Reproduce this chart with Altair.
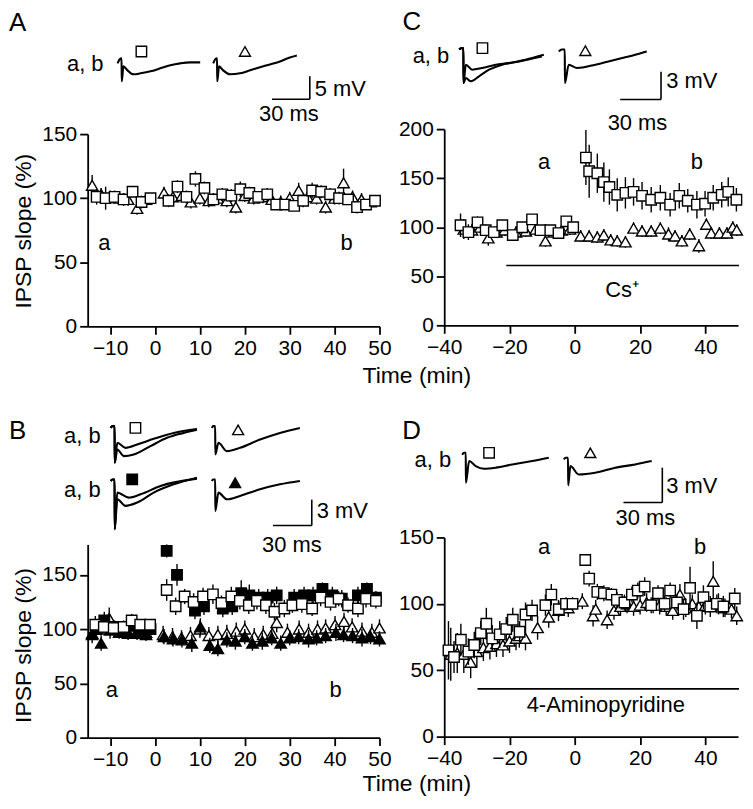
import altair as alt
import pandas as pd

FONT = "Liberation Sans"

# ---------------- Panel A (time course) ----------------
A_sq_t = [-13, -11, -9, -7, -5, -3, -1, 3, 5, 7, 9, 11, 13, 15, 17, 19, 21, 23, 25, 27, 29, 31, 33, 35, 37, 39, 41, 43, 45, 47, 49]
A_sq_v = [101, 100, 101, 99, 105, 97, 100, 98, 109, 101, 115, 108, 99, 103, 102, 107, 104, 101, 103, 95, 95, 94, 98, 106, 105, 103, 100, 99, 93, 95, 98]
A_sq_e = [6, 9, 5, 5, 4, 5, 4, 5, 5, 5, 6, 5, 5, 5, 5, 6, 5, 4, 5, 4, 4, 4, 5, 6, 5, 5, 5, 4, 5, 4, 4]
A_tri_t = [-14, -12, -10, -8, -6, -4, -2, 2, 4, 6, 8, 10, 12, 14, 16, 18, 20, 22, 24, 26, 28, 30, 32, 34, 36, 38, 40, 42, 44, 46, 48]
A_tri_v = [110, 103, 101, 100, 99, 92, 99, 104, 101, 102, 97, 100, 98, 100, 98, 93, 102, 100, 101, 99, 97, 100, 106, 101, 100, 93, 100, 112, 101, 99, 97]
A_tri_e = [8, 5, 5, 5, 5, 5, 5, 5, 5, 5, 5, 5, 5, 5, 5, 5, 5, 5, 5, 5, 5, 5, 6, 5, 5, 5, 5, 11, 5, 5, 5]

# ---------------- Panel C ----------------
C_sq_t = [-35, -32.6, -29.8, -27.3, -24.8, -22.2, -19, -16.1, -13.1, -10.5, -7.5, -5, -2.6, -0.5,
          3.4, 4.4, 6.9, 8.9, 10.6, 13, 15.5, 18, 20.6, 23.4, 26.2, 29.2, 32, 34.6, 37.4, 39.9, 42.4, 45, 47, 49.5]
C_sq_v = [102, 95, 105, 97, 95, 102, 92, 100, 108, 97, 97, 94, 106, 100,
          171, 157, 155, 146, 141, 133, 135, 136, 132, 128, 130, 123, 132, 127, 123, 124, 130, 133, 136, 128]
C_sq_e = [12, 8, 6, 6, 5, 5, 5, 5, 5, 5, 5, 5, 5, 5,
          28, 27, 20, 20, 18, 17, 16, 14, 14, 13, 13, 12, 13, 12, 14, 13, 13, 13, 15, 12]
C_tri_t = [-34, -31.5, -29, -26.5, -24, -21.5, -18, -15, -12, -9, -6.5, -4, -1.5,
           1.8, 4.4, 6.9, 8.9, 11, 13, 15.5, 18, 20.6, 23.4, 26.2, 28.7, 30.7, 32.8, 35.2, 38, 40.3, 41.8, 44.3, 46.6, 48.4, 49.6]
C_tri_v = [98, 97, 100, 89, 95, 97, 95, 96, 98, 86, 95, 97, 98,
           91, 91, 90, 92, 87, 86, 85, 99, 96, 96, 99, 93, 91, 86, 93, 81, 103, 94, 94, 94, 100, 97]
C_tri_e = [10, 6, 6, 8, 6, 6, 6, 6, 6, 6, 6, 6, 6,
           6, 6, 6, 6, 6, 6, 6, 6, 6, 6, 6, 7, 6, 6, 6, 7, 6, 6, 6, 6, 6, 6]

# ---------------- Panel B ----------------
B_sq_t = [-13.3, -11.4, -9.2, -7, -5.2, -3.3, -1.1, 2.6, 4.6, 6.6, 8.6, 10.7, 12.9, 14.8, 17, 18.9, 20.9,
          22.7, 24.7, 26.6, 28.8, 30.6, 32.7, 35, 36.9, 39.1, 40.9, 43, 45.2, 47, 49.2]
B_sq_v = [104, 102, 101, 102, 108, 104, 104, 136, 121, 130, 125, 130, 132, 124, 130, 126, 122,
          126, 122, 116, 119, 122, 123, 119, 129, 125, 128, 122, 119, 128, 126]
B_sq_e = [8, 6, 6, 6, 6, 5, 5, 10, 8, 7, 8, 8, 9, 7, 9, 8, 8, 8, 8, 8, 8, 7, 8, 7, 8, 8, 7, 7, 8, 8, 7]
B_fsq_t = [-13, -11.3, -9, -7, -5, -3, -1, 2.6, 4.9, 8.9, 10.9, 15.1, 17.2, 19.2, 21, 23.1, 25.1, 27.1,
           31, 33.2, 35.2, 37.3, 39.5, 41.6, 45.2, 47.2, 49.2]
B_fsq_v = [100, 108, 102, 100, 103, 99, 100, 172, 150, 117, 121, 119, 121, 133, 131, 129, 129, 131,
           129, 131, 131, 137, 131, 128, 131, 137, 129]
B_fsq_e = [5, 8, 6, 5, 5, 5, 5, 6, 10, 8, 8, 8, 8, 12, 10, 8, 8, 8, 8, 8, 8, 6, 8, 8, 8, 6, 6]
B_tri_t = [-14, -12, -10.2, -8, -6, -4, -2, 1.8, 3.9, 5.9, 7.9, 10, 12, 14, 16, 18.1, 20, 22.1, 24.1, 26.1,
           27.1, 29.5, 32.1, 34.2, 36.2, 38, 40.1, 42.1, 43.9, 46.1, 48.3, 50]
B_tri_v = [95, 100, 110, 100, 97, 98, 97, 95, 93, 92, 94, 100, 94, 95, 96, 98, 100, 93, 95, 96,
           106, 97, 100, 97, 100, 101, 104, 107, 102, 98, 97, 101]
B_tri_e = [8, 6, 10, 6, 6, 6, 6, 8, 8, 7, 8, 8, 8, 8, 8, 8, 8, 8, 8, 8, 9, 8, 8, 8, 8, 8, 8, 8, 8, 8, 8, 8]
B_ftri_t = [-14, -12, -10, -8, -6, -4, -2, 2, 4, 6, 8.2, 10.1, 12.2, 14, 16, 17.9, 20, 21.7, 23.9, 26,
            28, 30, 32, 34.2, 36, 38, 40.3, 42, 44, 46.1, 48, 50]
B_ftri_v = [96, 87, 99, 97, 96, 96, 95, 93, 91, 90, 87, 102, 85, 82, 90, 89, 93, 87, 89, 92,
            87, 92, 93, 91, 92, 94, 97, 95, 94, 92, 93, 91]
B_ftri_e = [6, 7, 8, 6, 6, 6, 6, 7, 7, 7, 8, 8, 7, 7, 7, 8, 7, 7, 8, 7, 7, 7, 7, 8, 7, 7, 8, 7, 7, 8, 7, 7]

# ---------------- Panel D ----------------
D_sq_t = [-38.7, -37, -34.9, -32.6, -30.8, -28.8, -27.1, -25.3, -23, -21, -19, -16.9, -15.1, -13.1, -9, -7.2, -4.9, -2.7, -0.7,
          3.2, 4.4, 6.9, 8.9, 11.2, 12.9, 15.2, 17.5, 19.3, 21.4, 23.4, 25.5, 27.5, 29.2, 31.3, 33.3, 35.3, 37.4, 39.4, 41.5, 43.5, 45.5, 49]
D_sq_v = [65, 60, 73, 64, 69, 78, 85, 74, 77, 81, 88, 79, 92, 95, 99, 107, 96, 100, 100,
          133, 119, 109, 108, 107, 103, 101, 107, 110, 113, 99, 108, 100, 110, 101, 96, 112, 91, 105, 98, 100, 98, 104]
D_sq_e = [22, 12, 12, 10, 10, 9, 12, 10, 10, 9, 9, 8, 9, 8, 8, 8, 6, 5, 5,
          4, 6, 6, 6, 5, 6, 6, 6, 6, 7, 6, 6, 6, 6, 6, 8, 16, 10, 9, 8, 7, 8, 8]
D_tri_t = [-38, -36, -34, -31.9, -30, -28, -26, -24, -22, -20, -18, -17, -15.1, -11.4, -8, -5, -2,
           2.3, 5.6, 6.4, 9.9, 12, 14, 16, 18, 20, 22, 24, 26, 28, 30, 32.2, 34, 36, 38, 40, 42.4, 44, 46, 48, 49.6]
D_tri_v = [62, 63, 62, 56, 64, 67, 68, 70, 69, 72, 74, 76, 74, 82, 90, 95, 97,
           102, 91, 96, 88, 95, 98, 100, 98, 99, 101, 100, 99, 98, 95, 107, 97, 100, 98, 99, 117, 100, 97, 96, 91]
D_tri_e = [20, 15, 14, 12, 12, 10, 10, 10, 9, 9, 9, 9, 9, 9, 8, 8, 7,
           6, 8, 7, 7, 7, 7, 7, 7, 7, 7, 7, 7, 7, 7, 8, 7, 7, 7, 7, 15, 8, 7, 7, 7]

# ---------------- Example traces (ms, mV) ----------------
trA = [
    ("sq", [0, 1.6, 3.2, 3.3, 4.7, 7.9, 12.6, 18.2, 26.1, 33.9, 41.8, 49.7, 57.6, 65.5],
           [0, 0.87, 1.09, -3.91, -0.65, -1.52, -2.39, -2.17, -1.74, -1.09, -0.43, 0, 0.22, 0.22]),
    ("tri", [75.8, 77.4, 78.9, 79.0, 80.5, 83.7, 89.2, 97.1, 105, 112.9, 120.8, 128.7, 136.6, 142.1],
            [0, 0.87, 1.09, -3.91, -0.65, -1.52, -2.39, -2.17, -1.52, -0.87, -0.22, 0.43, 1.3, 1.74]),
]
trC = [
    ("sq_a", [0, 1.5, 3.1, 3.2, 4.9, 8.6, 14.6, 22, 31.5, 43.9, 60.7],
             [0, 0.14, 0.14, -3.61, -3.07, -3.43, -2.89, -2.18, -1.64, -1.29, -0.75]),
    ("sq_b", [0, 1.5, 3.1, 3.2, 4.9, 9.5, 16.8, 26.9, 36.6, 48.8, 62.2],
             [0, 0.14, 0.14, -3.61, -1.64, -2.18, -2.0, -1.64, -1.47, -1.1, -0.57]),
    ("tri", [73.2, 75.4, 77.6, 77.7, 80.5, 86.6, 100, 114.7, 129.3, 137.8],
            [-0.21, 0, 0, -3.61, -1.64, -2.0, -1.64, -1.1, -0.57, -0.21]),
]
trB = [
    ("sq_a", [0, 1.5, 3.1, 3.2, 5.2, 10.2, 17.9, 30.8, 43.6, 56.4, 66.7],
             [0, 0.2, 0.2, -4.04, -2.5, -3.27, -3.08, -2.11, -1.15, -0.58, -0.2]),
    ("sq_b", [0, 1.5, 3.1, 3.2, 5.2, 11.5, 20.5, 33.3, 48.7, 66.7],
             [0, 0.2, 0.2, -4.04, -1.73, -2.31, -1.93, -1.27, -0.58, -0.12]),
    ("tri", [78.2, 79.2, 80.8, 80.9, 83.3, 89.8, 100, 115.4, 130.8, 146.2],
            [0, 0.2, 0.2, -3.08, -1.73, -2.69, -2.31, -1.35, -0.58, 0]),
    ("fsq_a", [0, 1.5, 3.1, 3.2, 5.2, 11.5, 20.5, 33.3, 48.7, 66.7],
              [-6.15, -5.97, -5.97, -11.73, -8.27, -9.03, -8.65, -7.5, -6.54, -5.77]),
    ("fsq_b", [0, 1.5, 3.1, 3.2, 5.2, 14.1, 23.1, 38.5, 66.7],
              [-6.15, -5.97, -5.97, -11.73, -7.5, -8.08, -7.7, -6.73, -5.88]),
    ("ftri", [78.2, 79.2, 80.8, 80.9, 83.3, 89.8, 100, 115.4, 130.8, 146.2],
             [-6.15, -5.97, -5.97, -9.61, -7.5, -8.27, -7.88, -7.12, -6.54, -6.15]),
]
trD = [
    ("sq", [0, 1.5, 2.8, 2.9, 5.4, 10.5, 16.9, 25.9, 38.7, 54.1, 66.9],
           [0, 0.17, 0.17, -2.4, -0.54, -0.97, -1.2, -1.11, -0.83, -0.54, -0.26]),
    ("tri", [78.5, 80, 81.8, 81.9, 83.6, 90, 102.8, 118.2, 133.6, 146.4],
            [-0.4, -0.26, -0.26, -2.63, -0.97, -1.69, -1.54, -1.11, -0.83, -0.54]),
]

FG = "black"


def sdf(t, v, e):
    return pd.DataFrame({"t": t, "v": v,
                         "lo": [a - b for a, b in zip(v, e)],
                         "hi": [a + b for a, b in zip(v, e)]})


def tdf(traces):
    rows = []
    for name, ts, vs in traces:
        for i, (a, b) in enumerate(zip(ts, vs)):
            rows.append({"id": name, "i": i, "t": a, "v": b})
    return pd.DataFrame(rows)


PANELS = {
    "A": dict(
        w=293, h=198, xdom=[-15, 50], ydom=[0, 150], yrange=[198, 5],
        xticks=[-10, 0, 10, 20, 30, 40, 50], yticks=[0, 50, 100, 150],
        xtitle="Time (min)", xtitleY=38, ytitle="IPSP slope (%)", ytitleY=102,
        series=[(sdf(A_tri_t, A_tri_v, A_tri_e), "triangle-up", False),
                (sdf(A_sq_t, A_sq_v, A_sq_e), "square", False)],
        labels=[(-11.3, 65, "a"), (42.7, 65, "b")],
        bars=[], bartext=[],
        origin=(87, 128), anchor=(117, 62), k=(38 / 30, 23 / 5),
        traces=trA,
        tmarks=[(18.9, 2.6, "square", False), (101, 2.6, "triangle-up", False)],
        letter=(-86, 8.8, "A"), ab=[(-11.1, -0.2)],
        sbar=(152.4, -7.83, 30, 5), sv=(156.3, -5.65, "5 mV"), sh=(135.8, -11.1, "30 ms"),
    ),
    "C": dict(
        w=295, h=197, xdom=[-40, 50], ydom=[0, 200],
        xticks=[-40, -20, 0, 20, 40], yticks=[0, 50, 100, 150, 200],
        xtitle=None, ytitle=None,
        series=[(sdf(C_tri_t, C_tri_v, C_tri_e), "triangle-up", False),
                (sdf(C_sq_t, C_sq_v, C_sq_e), "square", False)],
        labels=[(-9.4, 166, "a"), (37.4, 166, "b")],
        bars=[(-21, 50.3, 61)], bartext=[(14.5, 36, "Cs\u207a")],
        origin=(445, 128), anchor=(460, 48), k=(41 / 30, 28 / 3),
        traces=trC,
        tmarks=[(17.1, 0.14, "square", False), (92.7, -0.14, "triangle-up", False)],
        letter=(-41.7, 2.95, "C"), ab=[(-7.3, -0.75)],
        sbar=(148.3, -5.39, 30, 3), sv=(152.2, -3.43, "3 mV"), sh=(131, -7.93, "30 ms"),
    ),
    "B": dict(
        w=293, h=201, xdom=[-15, 50], ydom=[0, 178], yrange=[201, 7],
        xticks=[-10, 0, 10, 20, 30, 40, 50], yticks=[0, 50, 100, 150],
        xtitle="Time (min)", xtitleY=35, ytitle="IPSP slope (%)", ytitleY=108,
        series=[(sdf(B_tri_t, B_tri_v, B_tri_e), "triangle-up", False),
                (sdf(B_ftri_t, B_ftri_v, B_ftri_e), "triangle-up", True),
                (sdf(B_fsq_t, B_fsq_v, B_fsq_e), "square", True),
                (sdf(B_sq_t, B_sq_v, B_sq_e), "square", False)],
        labels=[(-9.6, 44, "a"), (40.2, 44, "b")],
        bars=[], bartext=[],
        origin=(87, 535), anchor=(110, 425), k=(39 / 30, 26 / 3),
        traces=trB,
        tmarks=[(19.2, 0, "square", False), (98.5, -0.23, "triangle-up", False),
                (16.7, -5.97, "square", True), (96.2, -6.35, "triangle-up", True)],
        letter=(-78.5, -0.35, "B"), ab=[(-7.7, -0.92), (-7.7, -7.15)],
        sbar=(155.4, -11.31, 30, 3), sv=(159.2, -9.58, "3 mV"), sh=(140, -13.6, "30 ms"),
    ),
    "D": dict(
        w=295, h=200, xdom=[-40, 50], ydom=[0, 150],
        xticks=[-40, -20, 0, 20, 40], yticks=[0, 50, 100, 150],
        xtitle=None, ytitle=None,
        series=[(sdf(D_tri_t, D_tri_v, D_tri_e), "triangle-up", False),
                (sdf(D_sq_t, D_sq_v, D_sq_e), "square", False)],
        labels=[(-9.4, 143, "a"), (38.4, 143, "b")],
        bars=[(-29.8, 50.3, 36)], bartext=[(9.5, 24, "4-Aminopyridine")],
        origin=(445, 535), anchor=(463, 452), k=(39 / 30, 35 / 3),
        traces=trD,
        tmarks=[(20.8, 0.17, "square", False), (99, 0.17, "triangle-up", False)],
        letter=(-46.2, 2.06, "D"), ab=[(-8.5, -0.43)],
        sbar=(154.6, -4.11, 30, 3), sv=(157.7, -2.66, "3 mV"), sh=(141.5, -5.4, "30 ms"),
    ),
}


def build(P):
    xs = alt.Scale(domain=P["xdom"], nice=False, zero=False)
    ykw = dict(domain=P["ydom"], nice=False, zero=False)
    if "yrange" in P:
        ykw["range"] = P["yrange"]
    ys = alt.Scale(**ykw)

    if P["xtitle"]:
        xax = alt.Axis(values=P["xticks"], titleX=330, titleY=P["xtitleY"], titleBaseline="top", labelPadding=3)
    else:
        xax = alt.Axis(values=P["xticks"], labelPadding=3)
    if P["ytitle"]:
        yax = alt.Axis(values=P["yticks"], titleX=-64, titleY=P["ytitleY"], titleBaseline="middle",
                       titleAngle=-90, labelPadding=3)
    else:
        yax = alt.Axis(values=P["yticks"], labelPadding=3)

    def X(f):
        return alt.X(f"{f}:Q", scale=xs, axis=xax, title=P["xtitle"])

    def Y(f):
        return alt.Y(f"{f}:Q", scale=ys, axis=yax, title=P["ytitle"])

    sc = []
    for df, shape, filled in P["series"]:
        sc.append(alt.Chart(df).mark_rule(color=FG, strokeWidth=1.4).encode(x=X("t"), y=Y("lo"), y2="hi:Q"))
        sc.append(alt.Chart(df).mark_point(shape=shape, size=110 if shape == "square" else 130,
                                           filled=True, fill=FG if filled else "white",
                                           stroke=FG, strokeWidth=1.4, opacity=1)
                  .encode(x=X("t"), y=Y("v")))
    lab = pd.DataFrame(P["labels"], columns=["t", "v", "s"])
    sc.append(alt.Chart(lab).mark_text(fontSize=22, font=FONT, color=FG).encode(x=X("t"), y=Y("v"), text="s:N"))
    if P["bars"]:
        bdf = pd.DataFrame(P["bars"], columns=["t", "t2", "v"])
        sc.append(alt.Chart(bdf).mark_rule(color=FG, strokeWidth=1.6)
                  .encode(x=X("t"), x2="t2:Q", y=Y("v")))
        btx = pd.DataFrame(P["bartext"], columns=["t", "v", "s"])
        sc.append(alt.Chart(btx).mark_text(fontSize=22, font=FONT, color=FG)
                  .encode(x=X("t"), y=Y("v"), text="s:N"))

    # trace layer with its own ms / mV scales
    ox, oy = P["origin"]
    xa, ya = P["anchor"]
    kx, ky = P["k"]
    txs = alt.Scale(domain=[0, 100], range=[xa - ox, xa - ox + 100 * kx], nice=False, zero=False)
    tys = alt.Scale(domain=[0, 10], range=[ya - oy, ya - oy - 10 * ky], nice=False, zero=False)

    def TX(f):
        return alt.X(f"{f}:Q", scale=txs, axis=None)

    def TY(f):
        return alt.Y(f"{f}:Q", scale=tys, axis=None)

    tr = []
    tr.append(alt.Chart(tdf(P["traces"])).mark_line(color=FG, strokeWidth=2.1, interpolate="monotone")
              .encode(x=TX("t"), y=TY("v"), detail="id:N", order="i:Q"))
    for (t, v, shape, filled) in P["tmarks"]:
        mdf = pd.DataFrame({"t": [t], "v": [v]})
        tr.append(alt.Chart(mdf).mark_point(shape=shape, size=110 if shape == "square" else 120,
                                            filled=True, fill=FG if filled else "white",
                                            stroke=FG, strokeWidth=1.4, opacity=1)
                  .encode(x=TX("t"), y=TY("v")))
    c0, v0, dt, dv = P["sbar"]
    sb = pd.DataFrame({"t": [c0, c0 - dt], "t2": [c0, c0], "v": [v0, v0], "v2": [v0 + dv, v0]})
    tr.append(alt.Chart(sb).mark_rule(color=FG, strokeWidth=1.6)
              .encode(x=TX("t"), x2="t2:Q", y=TY("v"), y2="v2:Q"))
    lt = pd.DataFrame([P["letter"]], columns=["t", "v", "s"])
    tr.append(alt.Chart(lt).mark_text(fontSize=26, font=FONT, color=FG, align="left", baseline="middle")
              .encode(x=TX("t"), y=TY("v"), text="s:N"))
    ab = pd.DataFrame([(a, b, "a, b") for a, b in P["ab"]], columns=["t", "v", "s"])
    tr.append(alt.Chart(ab).mark_text(fontSize=22, font=FONT, color=FG, align="right", baseline="middle")
              .encode(x=TX("t"), y=TY("v"), text="s:N"))
    svd = pd.DataFrame([P["sv"]], columns=["t", "v", "s"])
    tr.append(alt.Chart(svd).mark_text(fontSize=22, font=FONT, color=FG, align="left", baseline="middle")
              .encode(x=TX("t"), y=TY("v"), text="s:N"))
    shd = pd.DataFrame([P["sh"]], columns=["t", "v", "s"])
    tr.append(alt.Chart(shd).mark_text(fontSize=22, font=FONT, color=FG, align="center", baseline="middle")
              .encode(x=TX("t"), y=TY("v"), text="s:N"))

    return (alt.layer(alt.layer(*sc), alt.layer(*tr))
            .resolve_scale(x="independent", y="independent")
            .properties(width=P["w"], height=P["h"]))


chart = alt.concat(
    build(PANELS["A"]), build(PANELS["C"]), build(PANELS["B"]), build(PANELS["D"]),
    columns=2, spacing={"row": 212, "column": 65}, bounds="flush",
    padding={"left": 0, "top": -1, "right": -1, "bottom": -1},
).configure_view(stroke=None).configure_axis(
    grid=False, domainColor=FG, domainWidth=1.8, tickColor=FG, tickWidth=1.8, tickSize=8,
    labelFont=FONT, labelFontSize=21, labelColor=FG, labelFlush=False,
    labelOverlap=False, titleFont=FONT, titleFontSize=23, titleColor=FG, titleFontWeight="normal",
).configure_text(font=FONT)

chart.save("out.html", embed_options={"renderer": "svg", "actions": False})
